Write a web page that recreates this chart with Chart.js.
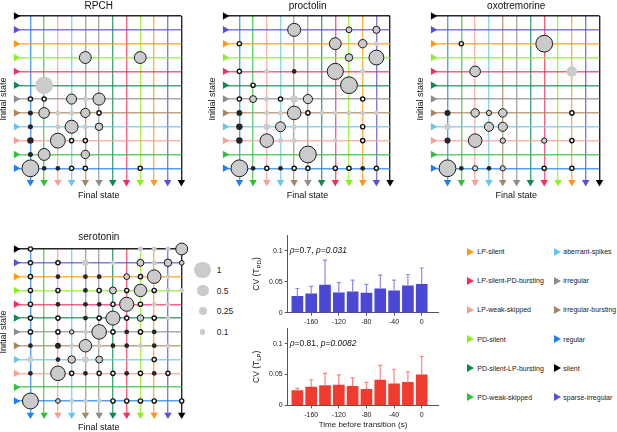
<!DOCTYPE html>
<html>
<head>
<meta charset="utf-8">
<script src="https://cdn.jsdelivr.net/npm/chart.js@4.4.0/dist/chart.umd.min.js"></script>
<style>
  html, body { margin: 0; padding: 0; background: #fff; }
  body { width: 617px; height: 432px; position: relative; overflow: hidden; font-family: 'Liberation Sans', Arial, sans-serif; }
  canvas { position: absolute; }
  .lab { position: absolute; color: #222; white-space: nowrap; }
  .tri { position: absolute; width: 0; height: 0; border-top: 4px solid transparent; border-bottom: 4px solid transparent; border-left: 7px solid #000; }
  .dot { position: absolute; border-radius: 50%; background: #cbcbcb; }
</style>
</head>
<body>
<canvas id="rpch"></canvas>
<canvas id="proctolin"></canvas>
<canvas id="oxo"></canvas>
<canvas id="serotonin"></canvas>
<canvas id="cvPD"></canvas>
<canvas id="cvLP"></canvas>
<div id="sizeLegend"></div>
<div id="stateLegend"></div>
<script>
// state order along both axes (index 0 = bottom / left)
const states = ['regular', 'PD-weak-skipped', 'LP-weak-skipped', 'aberrant-spikes', 'irregular-bursting', 'irregular',
  'PD-silent-LP-bursting', 'LP-silent-PD-bursting', 'PD-silent', 'LP-silent', 'sparse-irregular', 'silent'];
const stateColors = ['#1f80f2', '#2fc13b', '#f89f93', '#68c4ee', '#a5885f', '#8d8d8d',
  '#0c8a50', '#f22f5f', '#8cf01e', '#ff9813', '#5a50d6', '#000000'];

// transition probabilities [final, initial, p]; open markers are [final, initial]
const rpchBordered = [[4,8,0.5],[8,8,0.5],[3,5,0.36],[5,5,0.52],[1,4,0.4],[4,4,0.3],[3,3,0.6],[5,3,0.2],[2,2,0.78],[1,1,0.5],[4,1,0.25],[0,0,1.0]];
const rpchPlain = [[1,6,1.1],[4,5,0.1],[2,4,0.09],[3,4,0.09],[2,3,0.09],[4,3,0.09]];
const rpchDark = [[0,4,0.09],[0,3,0.09],[0,2,0.15],[0,1,0.09],[1,0,0.08],[2,0,0.08]];
const rpchOpen = [[0,5],[1,5],[5,4],[3,2],[4,2],[3,0],[4,0],[8,0]];

const procBordered = [[4,10,0.6],[8,10,0.12],[10,10,0.18],[7,9,0.5],[9,9,0.25],[8,8,0.2],[10,8,0.78],[7,7,0.92],[8,6,1.0],[1,5,0.17],[5,5,0.3],[4,4,0.65],[3,3,0.35],[2,2,0.65],[5,1,1.0],[0,0,1.0]];
const procPlain = [[10,9,0.09],[2,7,0.09],[9,7,0.09],[2,5,0.09],[4,5,0.2],[2,4,0.09],[3,4,0.09],[6,4,0.08],[7,4,0.08],[8,4,0.08],[9,4,0.08],[10,4,0.08],[2,3,0.15],[4,3,0.09],[3,2,0.09],[4,2,0.09],[7,2,0.08]];
const procDark = [[4,7,0.08],[0,4,0.12],[0,3,0.15],[0,2,0.15],[1,0,0.08],[3,0,0.08],[9,0,0.08]];
const procOpen = [[0,9],[0,7],[1,6],[0,5],[3,5],[9,5],[5,4],[9,3],[9,2],[2,0],[4,0],[5,0],[7,0],[8,0],[10,0]];

const oxoBordered = [[7,9,1.0],[2,7,0.4],[2,4,0.25],[3,4,0.1],[4,4,0.25],[3,3,0.3],[4,3,0.3],[2,2,0.65],[4,2,0.1],[7,2,0.1],[0,0,1.0],[2,0,0.1],[4,0,0.1]];
const oxoPlain = [[9,7,0.4],[0,3,0.15]];
const oxoDark = [[0,4,0.13],[0,2,0.13],[1,0,0.08],[3,0,0.08]];
const oxoOpen = [[1,9],[9,4],[9,2],[9,0],[7,0]];

const seroBordered = [[11,11,0.5],[8,10,0.17],[10,10,0.2],[11,10,0.08],[7,9,0.12],[9,9,0.65],[6,8,0.17],[8,8,0.55],[7,7,0.7],[6,6,0.7],[8,6,0.15],[3,5,0.07],[5,5,0.75],[4,4,0.55],[3,3,0.2],[5,3,0.17],[2,2,0.75],[0,0,0.9],[2,0,0.08]];
const seroPlain = [[8,11,0.09],[9,11,0.09],[10,11,0.09],[4,10,0.15],[6,10,0.08],[9,10,0.09],[10,9,0.08],[10,8,0.08],[11,8,0.08],[9,7,0.08],[10,7,0.08],[10,6,0.08],[4,5,0.08],[3,4,0.08],[5,4,0.08],[8,4,0.08],[10,4,0.08],[0,3,0.12],[4,3,0.15],[3,0,0.08],[4,0,0.08],[5,0,0.08]];
const seroDark = [[2,9,0.08],[4,9,0.08],[5,9,0.08],[4,8,0.08],[2,7,0.08],[4,7,0.08],[5,7,0.08],[4,6,0.08],[7,5,0.08],[9,5,0.08],[0,4,0.08],[2,4,0.12],[6,4,0.08],[7,4,0.08],[9,4,0.08],[2,3,0.08],[0,2,0.08],[4,2,0.08],[7,2,0.08],[9,2,0.08]];
const seroOpen = [[0,11],[0,10],[2,10],[0,9],[8,9],[0,8],[2,8],[5,8],[7,8],[9,8],[0,7],[6,7],[8,7],[0,6],[2,6],[5,6],[7,6],[9,6],[0,5],[2,5],[6,5],[8,5],[9,3],[3,2],[5,2],[6,2],[8,2],[10,2],[6,0],[7,0],[8,0],[9,0],[11,0]];

const sizeKeys = [1, 0.5, 0.25, 0.1];

// CV of burst period before transition
const times = [-180, -160, -140, -120, -100, -80, -60, -40, -20, 0];
const timeTicks = [-160, -120, -80, -40, 0];
const cvTicks = [0, 0.05, 0.1];
const cvPD = [0.0263, 0.0305, 0.0447, 0.032, 0.0337, 0.0316, 0.0384, 0.0353, 0.0432, 0.0458];
const cvPDErr = [0.0127, 0.0121, 0.04, 0.0164, 0.0189, 0.0142, 0.0221, 0.0173, 0.0184, 0.0263];
const cvLP = [0.0239, 0.0298, 0.0319, 0.033, 0.0309, 0.026, 0.041, 0.0351, 0.0372, 0.0495];
const cvLPErr = [0.0038, 0.0117, 0.0201, 0.0165, 0.0138, 0.0112, 0.0239, 0.0234, 0.0171, 0.0298];

Chart.defaults.font.family = "'Liberation Sans', Arial, sans-serif";
Chart.defaults.color = '#222';

const X_MIN = -1.05, Y_MIN = -1.0;
const idx = states.map((s, i) => i);

function alpha(hex, a) {
  const n = parseInt(hex.slice(1), 16);
  return `rgba(${n >> 16}, ${(n >> 8) & 255}, ${n & 255}, ${a})`;
}
const lineColors = stateColors.map(c => alpha(c, c === '#000000' ? 0.85 : 0.75));
const radius = p => 8.4 * Math.sqrt(p);
const toBubble = arr => arr.map(([x, y, p]) => ({ x, y, r: p === undefined ? 2.1 : radius(p) }));

function placeCanvas(id, L, T, W, H) {
  const c = document.getElementById(id);
  c.width = W; c.height = H;
  c.style.left = L + 'px'; c.style.top = T + 'px';
  return c;
}

// ---- transition grids ----
function gridChart(id, box, title, titleGap, sets) {
  const L = box.left - 18, T = box.top - 12 - titleGap;
  const W = Math.ceil(box.right + 12 - L), H = Math.ceil(box.bottom + 18.5 - T);
  const canvas = placeCanvas(id, L, T, W, H);
  const gridLine = { color: c => lineColors[c.index], lineWidth: 1.4, drawTicks: false };
  new Chart(canvas, {
    type: 'bubble',
    data: {
      datasets: [
        { type: 'scatter', data: idx.map(i => ({ x: X_MIN, y: i })), pointStyle: 'triangle', pointRotation: 90,
          pointRadius: 4.3, pointBackgroundColor: stateColors, pointBorderWidth: 0, clip: false },
        { type: 'scatter', data: idx.map(i => ({ x: i, y: Y_MIN })), pointStyle: 'triangle', pointRotation: 180,
          pointRadius: 4.3, pointBackgroundColor: stateColors, pointBorderWidth: 0, clip: false },
        { data: toBubble(sets.open), backgroundColor: '#ffffff', borderColor: '#111', borderWidth: 1.4, clip: false },
        { data: toBubble(sets.dark), backgroundColor: '#262626', borderWidth: 0, clip: false },
        { data: toBubble(sets.bordered), backgroundColor: '#cbcbcb', borderColor: '#1a1a1a', borderWidth: 1, clip: false },
        { data: toBubble(sets.plain), backgroundColor: '#cbcbcb', borderWidth: 0, clip: false }
      ]
    },
    options: {
      responsive: false, animation: false, events: [],
      layout: { padding: { left: 0, top: 0, right: L + W - box.right, bottom: T + H - 18.5 - box.bottom } },
      plugins: {
        legend: { display: false }, tooltip: { enabled: false },
        title: { display: true, text: title, fullSize: false, color: '#111', font: { size: 10, weight: 'normal' }, padding: { top: 0, bottom: titleGap } }
      },
      scales: {
        x: {
          type: 'linear', min: X_MIN, max: 11,
          afterBuildTicks: a => { a.ticks = idx.map(v => ({ value: v })); },
          afterFit: s => { s.height = 18.5; },
          ticks: { display: false }, grid: gridLine, border: { display: false },
          title: { display: true, text: 'Final state', color: '#111', font: { size: 9 }, padding: 0 }
        },
        y: {
          type: 'linear', min: Y_MIN, max: 11,
          afterBuildTicks: a => { a.ticks = idx.map(v => ({ value: v })); },
          afterFit: s => { s.width = 18; },
          ticks: { display: false }, grid: gridLine, border: { display: false },
          title: { display: true, text: 'Initial state', color: '#111', font: { size: 9 }, padding: 0 }
        }
      }
    }
  });
}

gridChart('rpch', { left: 16.3, right: 181.7, top: 16, bottom: 182.15 }, 'RPCH', 4,
  { bordered: rpchBordered, plain: rpchPlain, dark: rpchDark, open: rpchOpen });
gridChart('proctolin', { left: 224.9, right: 390, top: 16, bottom: 182.15 }, 'proctolin', 4,
  { bordered: procBordered, plain: procPlain, dark: procDark, open: procOpen });
gridChart('oxo', { left: 432.8, right: 599.3, top: 16, bottom: 182.15 }, 'oxotremorine', 4,
  { bordered: oxoBordered, plain: oxoPlain, dark: oxoDark, open: oxoOpen });
gridChart('serotonin', { left: 16.3, right: 182, top: 249, bottom: 414.8 }, 'serotonin', 6,
  { bordered: seroBordered, plain: seroPlain, dark: seroDark, open: seroOpen });

// ---- CV bar charts ----
const errorBars = {
  id: 'errorBars',
  afterDatasetsDraw(chart, args, opts) {
    const { ctx, scales: { y } } = chart;
    const values = chart.data.datasets[0].data;
    ctx.save();
    ctx.strokeStyle = opts.color;
    ctx.lineWidth = 1.2;
    chart.getDatasetMeta(0).data.forEach((bar, i) => {
      const top = y.getPixelForValue(values[i].y + opts.errors[i]);
      ctx.beginPath();
      ctx.moveTo(bar.x, bar.y);
      ctx.lineTo(bar.x, top);
      ctx.moveTo(bar.x - 2, top);
      ctx.lineTo(bar.x + 2, top);
      ctx.stroke();
    });
    ctx.restore();
  }
};

function drawParts(ctx, parts, x, y, size) {
  parts.forEach(([text, italic]) => {
    ctx.font = `${italic ? 'italic ' : ''}${size}px 'Liberation Sans', Arial, sans-serif`;
    ctx.fillText(text, x, y);
    x += ctx.measureText(text).width;
  });
}

const panelText = {
  id: 'panelText',
  afterDraw(chart, args, opts) {
    const { ctx, chartArea, scales: { y } } = chart;
    ctx.save();
    ctx.fillStyle = '#111';
    ctx.textBaseline = 'middle';
    drawParts(ctx, opts.stat, chartArea.left + 2, y.getPixelForValue(0.1), 8.5);
    // rotated axis label with subscript
    ctx.translate(opts.labelX, (chartArea.top + chartArea.bottom) / 2);
    ctx.rotate(-Math.PI / 2);
    const main = "8.5px 'Liberation Sans', Arial, sans-serif", sub = "6px 'Liberation Sans', Arial, sans-serif";
    ctx.font = main; const w1 = ctx.measureText('CV (T').width, w3 = ctx.measureText(')').width;
    ctx.font = sub; const w2 = ctx.measureText(opts.sub).width;
    let x = -(w1 + w2 + w3) / 2;
    ctx.font = main; ctx.fillText('CV (T', x, 0); x += w1;
    ctx.font = sub; ctx.fillText(opts.sub, x, 2.5); x += w2;
    ctx.font = main; ctx.fillText(')', x, 0);
    ctx.restore();
  }
};

function barChart(id, box, values, errors, color, errColor, sub, stat, xTitle) {
  const L = 250, T = box.top - 6;
  const xH = xTitle ? 24 : 16;
  const W = Math.ceil(box.right + 4 - L), H = Math.ceil(box.bottom + xH - T);
  const canvas = placeCanvas(id, L, T, W, H);
  const axisGrid = { drawOnChartArea: false, drawTicks: true, tickLength: 3, color: '#555' };
  new Chart(canvas, {
    type: 'bar',
    data: { datasets: [{ data: times.map((t, i) => ({ x: t, y: values[i] })), backgroundColor: color, barThickness: 11 }] },
    plugins: [errorBars, panelText],
    options: {
      responsive: false, animation: false, events: [],
      layout: { padding: { left: 0, top: 6, right: L + W - box.right, bottom: T + H - xH - box.bottom } },
      plugins: {
        legend: { display: false }, tooltip: { enabled: false },
        errorBars: { errors, color: errColor },
        panelText: { stat, sub, labelX: 7 }
      },
      scales: {
        x: {
          type: 'linear', min: -194, max: 24, offset: false,
          afterBuildTicks: a => { a.ticks = timeTicks.map(v => ({ value: v })); },
          afterFit: s => { s.height = xH; },
          ticks: { font: { size: 7 }, padding: 2, maxRotation: 0, autoSkip: false, callback: v => String(v) },
          grid: { ...axisGrid, offset: false }, border: { color: '#555', width: 1 },
          title: { display: xTitle, text: 'Time before transition (s)', color: '#222', font: { size: 8 }, padding: 0 }
        },
        y: {
          type: 'linear', min: 0, max: 0.125,
          afterBuildTicks: a => { a.ticks = cvTicks.map(v => ({ value: v })); },
          afterFit: s => { s.width = box.left - L; },
          ticks: { font: { size: 7 }, padding: 2, callback: v => String(v) },
          grid: axisGrid, border: { color: '#555', width: 1 }
        }
      }
    }
  });
}

barChart('cvPD', { left: 287.7, right: 438.3, top: 235, bottom: 312.7 }, cvPD, cvPDErr, '#4b48d6', '#8c8ae8', 'PD',
  [['ρ', true], ['=0.7, ', false], ['p=0.031', true]], false);
barChart('cvLP', { left: 287.7, right: 438.3, top: 328.3, bottom: 405.7 }, cvLP, cvLPErr, '#f23b2f', '#f5877f', 'LP',
  [['ρ', true], ['=0.81, ', false], ['p=0.0082', true]], true);

// ---- size legend ----
const sizeLegend = document.getElementById('sizeLegend');
sizeKeys.forEach((p, i) => {
  const r = radius(p), cy = [270, 290.5, 311, 332][i];
  const d = document.createElement('div');
  d.className = 'dot';
  Object.assign(d.style, { left: (202.7 - r) + 'px', top: (cy - r) + 'px', width: 2 * r + 'px', height: 2 * r + 'px' });
  sizeLegend.appendChild(d);
  const t = document.createElement('div');
  t.className = 'lab';
  t.textContent = String(p);
  Object.assign(t.style, { left: '216.7px', top: (cy - 5) + 'px', fontSize: '8.5px', lineHeight: '10px' });
  sizeLegend.appendChild(t);
});

// ---- state legend (alphabetical, two columns) ----
const stateLegend = document.getElementById('stateLegend');
const sorted = states.slice().sort();
sorted.forEach((s, k) => {
  const col = Math.floor(k / 6), row = k % 6;
  const cy = 251.7 + row * 29.1;
  const triX = col ? 554 : 467.3, textX = col ? 563.3 : 477.3;
  const tri = document.createElement('div');
  tri.className = 'tri';
  Object.assign(tri.style, { left: triX + 'px', top: (cy - 4) + 'px', borderLeftColor: stateColors[states.indexOf(s)] });
  stateLegend.appendChild(tri);
  const t = document.createElement('div');
  t.className = 'lab';
  t.textContent = s;
  Object.assign(t.style, { left: textX + 'px', top: (cy - 4.5) + 'px', fontSize: '7px', lineHeight: '9px' });
  stateLegend.appendChild(t);
});
</script>
</body>
</html>
